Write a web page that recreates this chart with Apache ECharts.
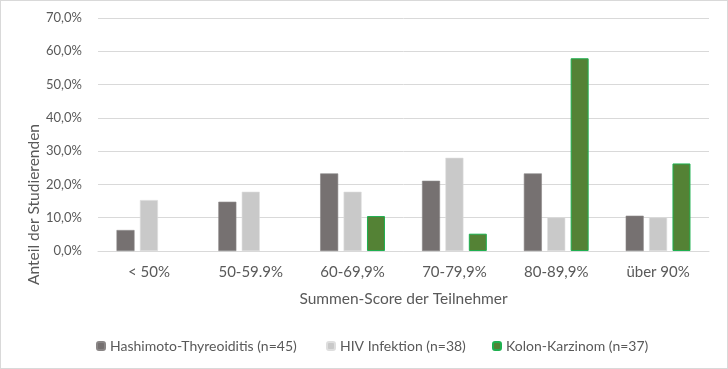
<!DOCTYPE html>
<html><head><meta charset="utf-8">
<script src="https://cdn.jsdelivr.net/npm/echarts@6/dist/echarts.min.js"></script>
<style>html,body{margin:0;padding:0;background:#fff}#c{width:726px;height:367px;border:1px solid #d9d9d9}</style>
</head><body><div id="c"></div>
<script>
const categories = ['< 50%', '50-59.9%', '60-69,9%', '70-79,9%', '80-89,9%', 'über 90%'];
const seriesNames = ['Hashimoto-Thyreoiditis (n=45)', 'HIV Infektion (n=38)', 'Kolon-Karzinom (n=37)'];
const hashimoto = [6.3, 14.8, 23.3, 21.1, 23.3, 10.6];
const hiv = [15.3, 17.8, 17.8, 28.0, 10.1, 10.1];
const kolon = [0, 0, 10.5, 5.2, 57.9, 26.3];
const yTicks = [0, 10, 20, 30, 40, 50, 60, 70];
const xTitle = 'Summen-Score der Teilnehmer';
const yTitle = 'Anteil der Studierenden';

const font = 'Lato';
const noZero = arr => arr.map(v => (v === 0 ? null : v));
const legendLefts = [90, 320, 486];
const chart = echarts.init(document.getElementById('c'));
chart.setOption({
  animation: false,
  textStyle: { fontFamily: font },
  grid: { left: 97, right: 18, top: 17, bottom: 117 },
  legend: seriesNames.map((n, i) => ({
    top: 333, left: legendLefts[i], itemWidth: 8, itemHeight: 8,
    textStyle: { color: '#595959', fontSize: 14, fontFamily: font },
    data: [n]
  })),
  graphic: [{
    type: 'text', left: 25, top: 123,
    rotation: Math.PI / 2,
    style: { text: yTitle, fill: '#595959', fontSize: 15.5, fontFamily: font }
  }],
  xAxis: {
    type: 'category', data: categories,
    name: xTitle, nameLocation: 'middle', nameGap: 40,
    nameTextStyle: { color: '#595959', fontSize: 15.5, fontFamily: font },
    axisLine: { lineStyle: { color: '#d9d9d9' } }, axisTick: { show: false },
    axisLabel: { color: '#595959', fontSize: 15, margin: 14 }
  },
  yAxis: {
    type: 'value', min: yTicks[0], max: yTicks[yTicks.length - 1], interval: 10,
    axisLabel: { color: '#595959', fontSize: 13, margin: 16,
      formatter: v => v.toFixed(1).replace('.', ',') + '%' },
    splitLine: { lineStyle: { color: '#d9d9d9' } },
    axisLine: { show: false }, axisTick: { show: false }
  },
  series: [
    { name: seriesNames[0], type: 'bar', data: noZero(hashimoto), barWidth: 18, barGap: '30%',
      itemStyle: { color: '#767171', borderColor: '#8a8686', borderWidth: 0.6 } },
    { name: seriesNames[1], type: 'bar', data: noZero(hiv), barWidth: 18, barGap: '30%',
      itemStyle: { color: '#c9c9c9', borderColor: '#dedede', borderWidth: 0.6 } },
    { name: seriesNames[2], type: 'bar', data: noZero(kolon), barWidth: 18, barGap: '30%',
      itemStyle: { color: '#548235', borderColor: '#1fb050', borderWidth: 1 } }
  ]
});
</script></body></html>
